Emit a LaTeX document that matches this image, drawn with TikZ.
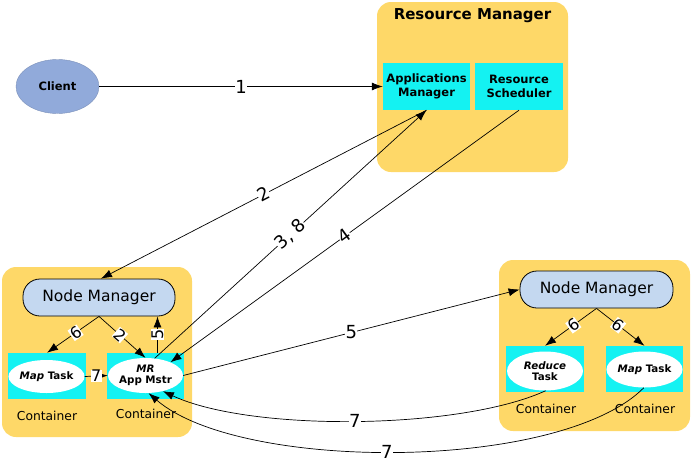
\documentclass[tikz,border=0pt]{standalone}
\usepackage{fontspec}
\setmainfont{DejaVu Sans}
\usetikzlibrary{arrows.meta,calc,shapes.geometric}
\definecolor{contbg}{RGB}{254,216,104}
\definecolor{cyanbg}{RGB}{20,242,242}
\definecolor{nmbg}{RGB}{196,216,240}
\definecolor{clientbg}{RGB}{145,170,218}
\tikzset{
  cont/.style={fill=contbg, rounded corners=14pt, draw=none},
  cbox/.style={fill=cyanbg, draw=none, inner sep=0pt},
  wov/.style={ellipse, fill=white, draw=none, inner sep=0pt, align=center, font=\fontsize{10.3}{11.5}\selectfont\bfseries},
  nm/.style={fill=nmbg, draw=black, line width=0.8pt, rounded corners=17pt, inner sep=0pt, font=\fontsize{15.5}{17}\selectfont},
  conn/.style={line width=0.7pt, -{Latex[length=11pt,width=8pt]}},
  lbl/.style={fill=white, inner sep=0.3pt, font=\fontsize{18}{19}\selectfont},
  slbl/.style={fill=white, inner sep=0.3pt, font=\fontsize{16}{17}\selectfont},
  ctxt/.style={font=\fontsize{12.3}{14}\selectfont},
}
\begin{document}
\begin{tikzpicture}[x=1pt,y=-1pt]
\useasboundingbox (0,0) rectangle (692,469);
% Resource manager
\node[cont, minimum width=191pt, minimum height=170pt] (rm) at (472.5,87) {};
\node[font=\fontsize{15}{17}\selectfont\bfseries] (rmt) at (472.5,16) {Resource Manager};
\node[cbox, minimum width=87pt, minimum height=47pt, align=center, font=\fontsize{11.5}{14}\selectfont\bfseries] (am) at (426.5,86.5) {Applications\\Manager};
\node[cbox, minimum width=88pt, minimum height=47pt, align=center, font=\fontsize{11.5}{14}\selectfont\bfseries] (rs) at (519,86.5) {Resource\\Scheduler};
% Client
\node[ellipse, fill=clientbg, draw=clientbg!85!black, line width=0.4pt, minimum width=83pt, minimum height=54pt, inner sep=0pt, font=\fontsize{11.5}{13}\selectfont\bfseries] (client) at (57.5,86.5) {Client};
% Left container
\node[cont, minimum width=190pt, minimum height=170pt] (lc) at (97,352) {};
\node[nm, minimum width=152pt, minimum height=37pt] (nmL) at (99,297.5) {Node Manager};
\node[cbox, minimum width=78pt, minimum height=46pt] (mapC) at (47,376) {};
\node[wov, minimum width=73pt, minimum height=33pt] (mapE) at (46.5,376.5) {\textit{Map} Task};
\node[cbox, minimum width=77pt, minimum height=46pt] (amC) at (145.5,376) {};
\node[wov, minimum width=75pt, minimum height=35pt] (amE) at (145.5,375.5) {\textit{MR}\\App Mstr};
\node[ctxt] (lcl1) at (47,416) {Container};
\node[ctxt] (lcl2) at (146,414) {Container};
% Right container
\node[cont, minimum width=191pt, minimum height=171pt] (rc) at (594.5,345.5) {};
\node[nm, minimum width=153pt, minimum height=37pt] (nmR) at (596.5,289.5) {Node Manager};
\node[cbox, minimum width=78pt, minimum height=46pt] (redC) at (545,369) {};
\node[wov, minimum width=76pt, minimum height=39pt] (redE) at (545,371) {\textit{Reduce}\\Task};
\node[cbox, minimum width=77pt, minimum height=46pt] (mapRC) at (644.5,369) {};
\node[wov, minimum width=75pt, minimum height=36pt] (mapRE) at (644.5,369.5) {\textit{Map} Task};
\node[ctxt] (rcl1) at (546,409) {Container};
\node[ctxt] (rcl2) at (645,409) {Container};
% Connectors
\draw[conn] (client) -- node[lbl]{1} (am);
\draw[conn] (am.south) -- node[lbl, sloped, pos=0.5]{2} (nmL.84);
\draw[conn] (amE.62) -- node[lbl, sloped, pos=0.5]{3, 8} (am.south);
\draw[conn] (rs.south) -- node[lbl, sloped, pos=0.5]{4} (amE.28);
\draw[conn] (amE.east) -- node[lbl, pos=0.5]{5} (nmR.west);
\draw[conn] (redE.-88) .. controls (460,430) and (250,432) .. node[lbl, pos=0.5]{7} (amE.-42);
\draw[conn] (mapRE.-92) .. controls (560,472) and (240,472) .. node[lbl, pos=0.52]{7} (amE.-80);
% inside left container
\draw[conn] (nmL.south) -- node[slbl, sloped, pos=0.45]{6} (mapC.north);
\draw[conn] (nmL.south) -- node[slbl, sloped, pos=0.45]{2} (amE.north);
\coordinate (p5) at ($(amC.north)+(12,0)$);
\draw[conn] (p5) -- node[slbl, sloped, pos=0.5]{5} (p5 |- nmL.south);
\draw[conn] (mapE.east) -- node[slbl]{7} (amE.west);
% inside right container
\draw[conn] (nmR.south) -- node[slbl, sloped, pos=0.45]{6} (redC.north);
\draw[conn] (nmR.south) -- node[slbl, sloped, pos=0.45]{6} (mapRC.north);
\end{tikzpicture}
\end{document}
